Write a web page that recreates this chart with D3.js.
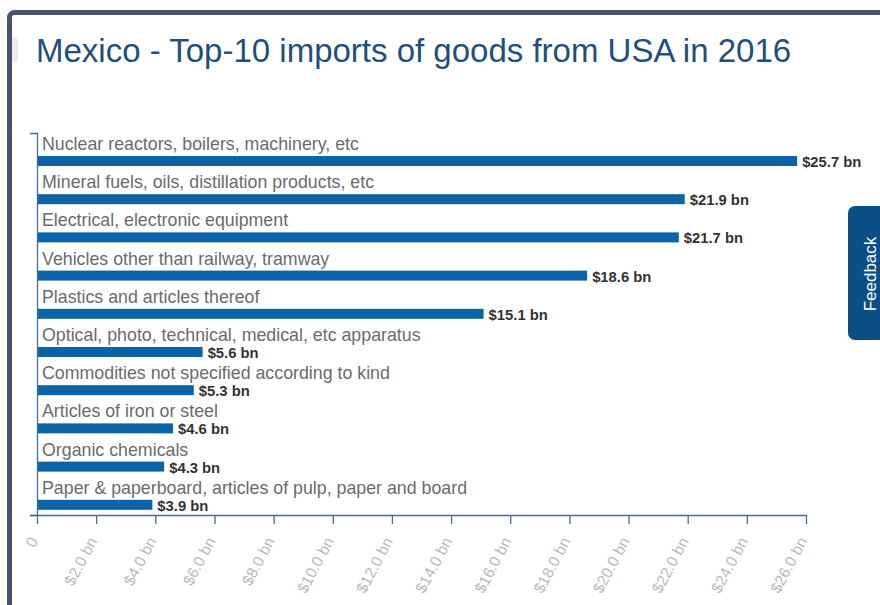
<!DOCTYPE html>
<html>
<head>
<meta charset="utf-8">
<script src="https://cdn.jsdelivr.net/npm/d3@7"></script>
<style>
  html, body { margin: 0; padding: 0; background: #fff; }
  svg { display: block; font-family: "Liberation Sans", Arial, sans-serif; }
</style>
</head>
<body>
<svg id="chart" width="880" height="605"></svg>
<script>
// Top-10 goods imported by Mexico from the USA, 2016 (US$ billions)
const categories = [
  "Nuclear reactors, boilers, machinery, etc",
  "Mineral fuels, oils, distillation products, etc",
  "Electrical, electronic equipment",
  "Vehicles other than railway, tramway",
  "Plastics and articles thereof",
  "Optical, photo, technical, medical, etc apparatus",
  "Commodities not specified according to kind",
  "Articles of iron or steel",
  "Organic chemicals",
  "Paper & paperboard, articles of pulp, paper and board"
];
const values = [25.7, 21.9, 21.7, 18.6, 15.1, 5.6, 5.3, 4.6, 4.3, 3.9];
const xTicks = [0, 2, 4, 6, 8, 10, 12, 14, 16, 18, 20, 22, 24, 26];

const svg = d3.select("#chart");

// Page frame with rounded top-left corner
svg.append("rect")
  .attr("x", 9.5).attr("y", 12.5)
  .attr("width", 920).attr("height", 700)
  .attr("rx", 5)
  .attr("fill", "#fff")
  .attr("stroke", "#45556b")
  .attr("stroke-width", 5);

// small grey tab at the left edge
svg.append("rect")
  .attr("x", 12).attr("y", 37).attr("width", 6).attr("height", 25)
  .attr("rx", 2).attr("fill", "#ececec");

// Title
svg.append("text")
  .attr("x", 36).attr("y", 62)
  .attr("font-size", 33)
  .attr("fill", "#1e4f7d")
  .text("Mexico - Top-10 imports of goods from USA in 2016");

const x = d3.scaleLinear().domain([0, 26]).range([37, 806]);
const y = d3.scaleBand().domain(categories).range([133, 515]).padding(0);

const axisColor = "#3f709b";

// Bars
const g = svg.append("g");
g.selectAll("rect.bar")
  .data(values)
  .join("rect")
  .attr("class", "bar")
  .attr("x", x(0))
  .attr("y", (d, i) => y(categories[i]) + 23)
  .attr("width", d => x(d) - x(0))
  .attr("height", 10)
  .attr("fill", "#0b63a8");

// Category labels above each bar
g.selectAll("text.cat")
  .data(categories)
  .join("text")
  .attr("class", "cat")
  .attr("x", 42)
  .attr("y", d => y(d) + 17)
  .attr("font-size", 17.8)
  .attr("fill", "#6b6b6b")
  .text(d => d);

// Value labels at bar ends
g.selectAll("text.val")
  .data(values)
  .join("text")
  .attr("class", "val")
  .attr("x", d => x(d) + 5)
  .attr("y", (d, i) => y(categories[i]) + 34)
  .attr("font-size", 14.8)
  .attr("font-weight", "bold")
  .attr("fill", "#333")
  .text(d => "$" + d.toFixed(1) + " bn");

// Y axis (line with outer ticks only)
const yAxis = d3.axisLeft(y).tickValues([]).tickSizeOuter(7);
const yg = svg.append("g").attr("transform", `translate(${x(0)},0)`).call(yAxis);
yg.select(".domain").attr("stroke", axisColor).attr("stroke-width", 1.3);

// X axis
const xAxis = d3.axisBottom(x)
  .tickValues(xTicks)
  .tickSize(9)
  .tickSizeOuter(0)
  .tickFormat(d => d === 0 ? "0" : "$" + d.toFixed(1) + " bn");
const xg = svg.append("g").attr("transform", "translate(0,515)").call(xAxis);
xg.select(".domain").attr("stroke", axisColor).attr("stroke-width", 1.3)
  .attr("d", `M${x(0) - 7},0.5H${x(26)}`);
xg.selectAll(".tick line").attr("stroke", axisColor).attr("stroke-width", 1.3);
xg.selectAll(".tick text")
  .attr("font-family", "'Liberation Sans', Arial, sans-serif")
  .attr("font-size", 15.5)
  .attr("fill", "#b9b9b9")
  .attr("text-anchor", "end")
  .attr("dy", null)
  .attr("y", 0)
  .attr("transform", "translate(1,26) rotate(-62)");

// Feedback tab
const fb = svg.append("g");
fb.append("rect")
  .attr("x", 848).attr("y", 206).attr("width", 60).attr("height", 134)
  .attr("rx", 7).attr("fill", "#0c4f86");
fb.append("text")
  .attr("transform", "translate(876,274) rotate(-90)")
  .attr("text-anchor", "middle")
  .attr("font-size", 17)
  .attr("fill", "#fff")
  .text("Feedback");
</script>
</body>
</html>
